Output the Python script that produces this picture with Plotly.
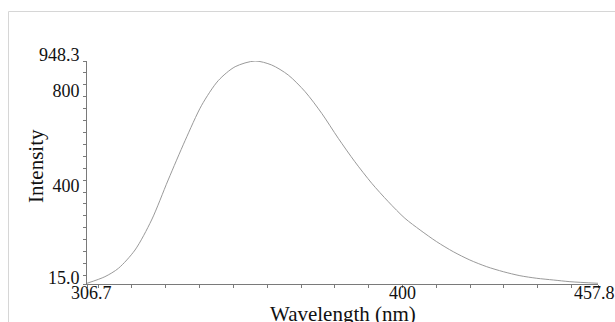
import plotly.graph_objects as go

# Emission spectrum samples (nm, intensity)
wavelength = [306.7, 312.0, 316.0, 320.9, 325.8, 330.7, 335.7, 340.6, 345.5, 350.5,
              356.4, 361.3, 366.2, 371.2, 376.1, 381.0, 385.9, 390.9, 395.8, 400.7,
              405.2, 410.1, 415.0, 419.9, 424.9, 429.8, 434.7, 439.7, 444.6, 449.5, 457.8]
intensity = [18.0, 45.6, 80.7, 157.3, 282.9, 450.3, 615.0, 763.0, 866.0, 924.4,
             948.3, 931.6, 889.7, 819.8, 729.4, 624.8, 526.9, 436.5, 359.5, 290.0,
             241.0, 192.0, 150.2, 115.5, 87.4, 66.5, 49.8, 38.9, 31.8, 24.7, 18.0]

# Axis ticks: every 10 nm / 50 counts, labels only at a few
x_tickvals = [306.7] + list(range(310, 451, 10)) + [457.8]
x_label_vals = [306.7, 400, 457.8]
x_label_text = ["306.7", "400", "457.8"]
y_tickvals = [15.0] + list(range(50, 901, 50)) + [948.3]
y_labels = {15.0: "15.0", 400: "400", 800: "800", 948.3: "948.3"}

x_range = [306.7, 457.8]
y_range = [15.0, 948.3]

W, H = 615, 322
L, R, T, B = 87, 17, 61, 38
pw, ph = W - L - R, H - T - B
SERIF = "Liberation Serif"
INK = "#111111"

fig = go.Figure()
fig.add_trace(go.Scatter(
    x=wavelength, y=intensity, mode="lines",
    line=dict(color="#9a9a9a", width=1, shape="spline", smoothing=0.8),
    cliponaxis=False, hoverinfo="skip", showlegend=False,
))

axis_common = dict(
    showgrid=False, zeroline=False, showline=True, linecolor="#7a7a7a", linewidth=1,
    ticks="outside", ticklen=3, tickwidth=1, tickcolor="#7a7a7a",
    tickfont=dict(family=SERIF, size=18, color=INK),
    tickmode="array",
)

# x tick labels sit just under the axis; the end labels are nudged inward
x_shift = {306.7: 4, 400: 0, 457.8: -4}
annotations = [
    dict(text=t, x=v, xref="x", y=0, yref="paper", yshift=3,
         xshift=x_shift[v], showarrow=False, xanchor="center", yanchor="top",
         font=dict(family=SERIF, size=18, color=INK))
    for v, t in zip(x_label_vals, x_label_text)
]
annotations += [
    dict(text="Intensity", xref="paper", yref="paper",
         x=(36 - L) / pw, y=(H - B - 166) / ph, textangle=-90,
         showarrow=False, xanchor="center", yanchor="middle",
         font=dict(family=SERIF, size=21, color=INK)),
    dict(text="Wavelength (nm)", xref="paper", yref="paper",
         x=(343 - L) / pw, y=(H - B - 314) / ph,
         showarrow=False, xanchor="center", yanchor="middle",
         font=dict(family=SERIF, size=21, color=INK)),
]

fig.update_layout(
    width=W, height=H,
    margin=dict(l=L, r=R, t=T, b=B),
    paper_bgcolor="white", plot_bgcolor="white",
    xaxis=dict(range=x_range, tickvals=x_tickvals,
               ticktext=["" for _ in x_tickvals], **axis_common),
    yaxis=dict(range=y_range, tickvals=y_tickvals,
               ticktext=[y_labels.get(v, "") for v in y_tickvals],
               ticklabelshift=-6, **axis_common),
    annotations=annotations,
    shapes=[
        dict(type="rect", xref="paper", yref="paper", layer="below",
             x0=(8.5 - L) / pw, x1=(W + 20 - L) / pw,
             y0=(H - B - (H + 20)) / ph, y1=(H - B - 11.5) / ph,
             line=dict(color="#d6d6d6", width=1), fillcolor="rgba(0,0,0,0)"),
    ],
)

fig.write_html("out.html")
